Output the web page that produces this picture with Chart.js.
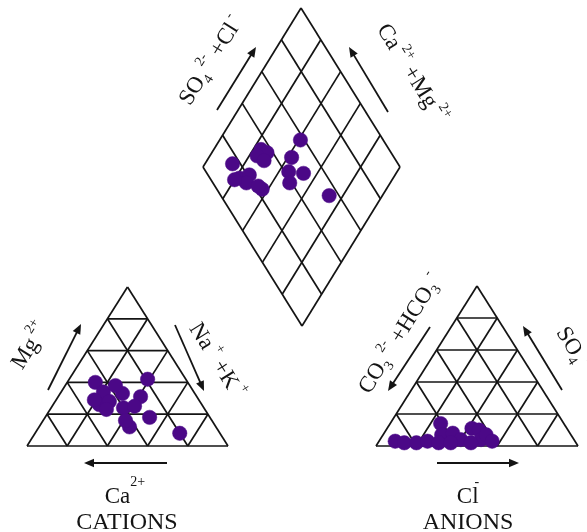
<!DOCTYPE html>
<html>
<head>
<meta charset="utf-8">
<script src="https://cdn.jsdelivr.net/npm/chart.js@4.4.1/dist/chart.umd.min.js"></script>
<style>
  html, body { margin: 0; padding: 0; background: #fff; }
  #wrap { width: 587px; height: 532px; }
</style>
</head>
<body>
<div id="wrap"><canvas id="piper"></canvas></div>
<script>
// Cation shares of each sample (% of meq/L)
const cationCa  = [46, 19, 45, 51, 45, 36, 28, 40, 34, 30, 43, 43, 20, 49, 37, 52];
const cationMg  = [40, 42, 34, 26, 28, 33, 31, 24, 25, 18, 12, 16,  8, 23, 38, 29];
const cationNaK = [14, 39, 21, 23, 27, 31, 41, 36, 41, 52, 45, 41, 72, 28, 25, 19];

// Anion shares of each sample (% of meq/L)
const anionHCO3 = [89, 85, 79, 73, 61, 64, 68, 58, 56, 47, 44, 46, 42, 41, 52, 62];
const anionSO4  = [ 3,  2,  2,  3, 14,  7,  2,  8,  4, 11, 10,  4,  7,  3,  2,  2];
const anionCl   = [ 8, 13, 19, 24, 25, 29, 30, 34, 40, 42, 46, 50, 51, 56, 46, 36];

// Central field: SO4+Cl and Ca+Mg (%)
const diamondSO4Cl = [16, 15, 21, 17, 35, 37, 31, 33, 23, 22, 48, 58, 42, 39, 49, 55, 12];
const diamondCaMg  = [86, 78, 74, 73, 76, 72, 76, 71, 63, 66, 58, 59, 55, 51, 47, 27, 80];

// Grid levels drawn in every field (%)
const gridLevels = [20, 40, 60, 80];

// ---- layout of the three fields (canvas units) ----
const CAT = { l: [27, 446], r: [228, 446], t: [127.5, 287] };   // Ca / Na+K / Mg corners
const AN  = { l: [376, 446], r: [578, 446], t: [477, 286] };    // HCO3 / Cl / SO4 corners
const DIA = { b: [302, 326], r: [400, 167], l: [203, 167] };    // bottom / right / left corners

function tern(tri, a, b, c) {          // a -> left corner, b -> right corner, c -> top corner
  const s = a + b + c;
  return {
    x: (tri.l[0] * a + tri.r[0] * b + tri.t[0] * c) / s,
    y: (tri.l[1] * a + tri.r[1] * b + tri.t[1] * c) / s
  };
}
function diamond(so4cl, camg) {
  const s = so4cl / 100, c = camg / 100;
  return {
    x: DIA.b[0] + s * (DIA.r[0] - DIA.b[0]) + c * (DIA.l[0] - DIA.b[0]),
    y: DIA.b[1] + s * (DIA.r[1] - DIA.b[1]) + c * (DIA.l[1] - DIA.b[1])
  };
}

const INK = '#141414';
const DOT = 'rgb(75, 8, 135)';
const datasets = [];

function segment(p, q) {
  datasets.push({
    data: [p, q], showLine: true, borderColor: INK, borderWidth: 1.7,
    pointRadius: 0, fill: false, order: 1
  });
}
function triangleGrid(tri) {
  segment(tern(tri, 100, 0, 0), tern(tri, 0, 100, 0));
  segment(tern(tri, 0, 100, 0), tern(tri, 0, 0, 100));
  segment(tern(tri, 0, 0, 100), tern(tri, 100, 0, 0));
  gridLevels.forEach(k => {
    segment(tern(tri, 100 - k, 0, k), tern(tri, 0, 100 - k, k));   // constant top share
    segment(tern(tri, 100 - k, k, 0), tern(tri, 0, k, 100 - k));   // constant right share
    segment(tern(tri, k, 100 - k, 0), tern(tri, k, 0, 100 - k));   // constant left share
  });
}
triangleGrid(CAT);
triangleGrid(AN);
segment(diamond(0, 0), diamond(100, 0));
segment(diamond(100, 0), diamond(100, 100));
segment(diamond(100, 100), diamond(0, 100));
segment(diamond(0, 100), diamond(0, 0));
gridLevels.forEach(k => {
  segment(diamond(k, 0), diamond(k, 100));
  segment(diamond(0, k), diamond(100, k));
});

function dots(points) {
  datasets.push({
    data: points, pointRadius: 7.2, pointBackgroundColor: DOT,
    pointBorderColor: DOT, pointBorderWidth: 0.5, order: 0
  });
}
dots(cationCa.map((ca, i) => tern(CAT, ca, cationNaK[i], cationMg[i])));
dots(anionHCO3.map((h, i) => tern(AN, h, anionCl[i], anionSO4[i])));
dots(diamondSO4Cl.map((s, i) => diamond(s, diamondCaMg[i])));

// ---- axis captions and direction arrows ----
// run kinds: n = normal, sub = subscript, sup = superscript, hi = raised above capitals
const SERIF = '"Liberation Serif", "Times New Roman", serif';
const captions = [
  { x: 210, y: 60, a: -58, size: 23, runs: [['SO', 'n'], ['4', 'sub'], [' 2-', 'sup'], [' +Cl', 'n'], [' -', 'sup']] },
  { x: 413, y: 73, a: 58, size: 23, runs: [['Ca', 'n'], [' 2+', 'sup'], [' +Mg', 'n'], [' 2+', 'sup']] },
  { x: 29, y: 345, a: -58, size: 23, runs: [['Mg', 'n'], [' 2+', 'sup']] },
  { x: 218, y: 360, a: 58, size: 23, runs: [['Na', 'n'], [' +', 'sup'], [' +K', 'n'], [' +', 'sup']] },
  { x: 399, y: 333, a: -58, size: 23, runs: [['CO', 'n'], ['3', 'sub'], [' 2-', 'sup'], [' +HCO', 'n'], ['3', 'sub'], [' -', 'sup']] },
  { x: 576, y: 350, a: 58, size: 23, runs: [['SO', 'n'], ['4', 'sub'], [' 2-', 'sup']] },
  { x: 125, y: 495, a: 0, size: 23, runs: [['Ca', 'n'], ['2+', 'hi']] },
  { x: 127, y: 521, a: 0, size: 24, runs: [['CATIONS', 'n']] },
  { x: 468, y: 495, a: 0, size: 23, runs: [['Cl', 'n'], ['-', 'hi', -4]] },
  { x: 468, y: 521, a: 0, size: 24, runs: [['ANIONS', 'n']] }
];
const arrows = [
  [[217, 110], [256, 47]],
  [[388, 112], [349, 47]],
  [[48, 390], [81, 324]],
  [[175, 325], [204, 391]],
  [[167, 463], [84, 463]],
  [[430, 327], [388, 391]],
  [[562, 390], [523, 326]],
  [[437, 463], [519, 463]]
];

function runFont(kind, size) {
  const s = kind === 'n' ? size : Math.round(size * 0.62);
  return s + 'px ' + SERIF;
}
const runShift = { n: 0, sub: 0.22, sup: -0.5, hi: -0.72 };

const annotate = {
  id: 'annotate',
  afterDatasetsDraw(chart) {
    const ctx = chart.ctx, sx = chart.scales.x, sy = chart.scales.y;
    const px = p => [sx.getPixelForValue(p[0]), sy.getPixelForValue(p[1])];
    ctx.save();
    ctx.fillStyle = INK;
    ctx.strokeStyle = INK;

    arrows.forEach(([p, q]) => {
      const a = px(p), b = px(q);
      const ang = Math.atan2(b[1] - a[1], b[0] - a[0]);
      const hl = 10, hw = 4.2;
      ctx.lineWidth = 1.8;
      ctx.beginPath();
      ctx.moveTo(a[0], a[1]);
      ctx.lineTo(b[0] - Math.cos(ang) * hl * 0.8, b[1] - Math.sin(ang) * hl * 0.8);
      ctx.stroke();
      ctx.beginPath();
      ctx.moveTo(b[0], b[1]);
      ctx.lineTo(b[0] - Math.cos(ang) * hl - Math.sin(ang) * hw, b[1] - Math.sin(ang) * hl + Math.cos(ang) * hw);
      ctx.lineTo(b[0] - Math.cos(ang) * hl + Math.sin(ang) * hw, b[1] - Math.sin(ang) * hl - Math.cos(ang) * hw);
      ctx.closePath();
      ctx.fill();
    });

    captions.forEach(c => {
      const [cx, cy] = px([c.x, c.y]);
      ctx.save();
      ctx.translate(cx, cy);
      ctx.rotate(c.a * Math.PI / 180);
      ctx.textBaseline = 'alphabetic';
      ctx.textAlign = 'left';
      let w = 0;
      c.runs.forEach(r => {
        ctx.font = runFont(r[1], c.size);
        w += ctx.measureText(r[0]).width + (r[2] || 0);
      });
      let x = -w / 2;
      const base = c.size * 0.34;
      c.runs.forEach(r => {
        ctx.font = runFont(r[1], c.size);
        x += (r[2] || 0);
        ctx.fillText(r[0], x, base + runShift[r[1]] * c.size);
        x += ctx.measureText(r[0]).width;
      });
      ctx.restore();
    });
    ctx.restore();
  }
};

new Chart(document.getElementById('piper'), {
  type: 'scatter',
  data: { datasets },
  options: {
    responsive: true,
    maintainAspectRatio: false,
    animation: false,
    events: [],
    layout: { padding: 0, autoPadding: false },
    clip: false,
    scales: {
      x: { type: 'linear', min: 0, max: 587, display: false },
      y: { type: 'linear', min: 0, max: 532, reverse: true, display: false }
    },
    plugins: { legend: { display: false }, tooltip: { enabled: false } }
  },
  plugins: [annotate]
});
</script>
</body>
</html>
